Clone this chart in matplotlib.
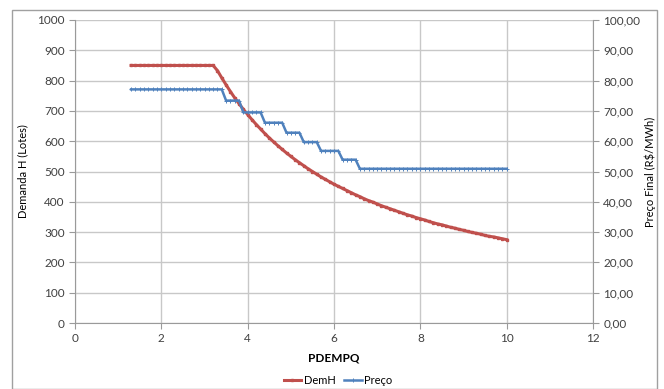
import numpy as np
import matplotlib
matplotlib.use("Agg")
import matplotlib.pyplot as plt
from matplotlib.patches import Rectangle
from matplotlib.ticker import FuncFormatter

# PDEMPQ grid, 1.3 to 10.0 in steps of 0.1
pdempq = np.round(np.arange(1.3, 10.01, 0.1), 1)

# Demanda H (lotes)
dem_h = [850] * 20 + [
    833, 809, 786, 764, 743, 724, 705, 688, 671, 655,
    640, 625, 611, 598, 585, 573, 561, 550, 539, 529,
    519, 509, 500, 491, 482, 474, 466, 458, 451, 444,
    437, 430, 423, 417, 410, 404, 399, 393, 387, 382,
    377, 372, 367, 362, 357, 353, 348, 344, 340, 335,
    331, 327, 324, 320, 316, 313, 309, 306, 302, 299,
    296, 293, 289, 286, 284, 281, 278, 275,
]

# Preço final (R$/MWh)
preco = ([77.1] * 22 + [73.4] * 4 + [69.5] * 5 + [66.1] * 5 + [62.8] * 4
         + [59.7] * 4 + [56.8] * 5 + [53.9] * 4 + [50.9] * 35)

red = "#C0504D"
blue = "#4F81BD"
grid_c = "#c8c8c8"
axis_c = "#9a9a9a"
text_c = "#404040"

plt.rcParams['font.family'] = ['Lato', 'DejaVu Sans']
plt.rcParams['font.size'] = 8.5

fig = plt.figure(figsize=(6.64, 3.89), dpi=100)
fig.patches.append(Rectangle((12 / 664, 0.0), 645 / 664, 1 - 10 / 389,
                             transform=fig.transFigure, fill=False,
                             edgecolor="#a0a0a0", linewidth=1.0))

ax = fig.add_axes([75 / 664, 1 - 323 / 389, 518 / 664, 303 / 389])
ax2 = ax.twinx()

l1, = ax.plot(pdempq, dem_h, color=red, linewidth=2.2, marker="s",
              markersize=1.8, label="DemH", zorder=3)
l2, = ax2.plot(pdempq, preco, color=blue, linewidth=1.8, marker="+",
               markersize=3, markeredgewidth=0.7, label="Preço", zorder=3)

ax.set_xlim(0, 12)
ax.set_ylim(0, 1000)
ax2.set_ylim(0, 100)
ax.set_xticks(range(0, 13, 2))
ax.set_yticks(range(0, 1001, 100))
ax2.set_yticks(range(0, 101, 10))
ax2.yaxis.set_major_formatter(FuncFormatter(lambda v, p: f"{v:.2f}".replace(".", ",")))

ax.grid(True, color=grid_c, linewidth=1)
ax.set_axisbelow(True)
for a in (ax, ax2):
    for s in a.spines.values():
        s.set_visible(False)
    a.tick_params(colors=axis_c, labelcolor=text_c, length=4, width=0.8)
ax.spines["left"].set_visible(True)
ax.spines["left"].set_color(axis_c)
ax.spines["bottom"].set_visible(True)
ax.spines["bottom"].set_color(axis_c)
ax2.spines["right"].set_visible(True)
ax2.spines["right"].set_color(axis_c)

ax.set_xlabel("PDEMPQ", fontweight="bold", color="black", labelpad=6)
ax.set_ylabel("Demanda H (Lotes)", color="black", fontsize=8, labelpad=6)
ax2.set_ylabel("Preço Final (R$/MWh)", color="black", fontsize=8, labelpad=3)

fig.legend(handles=[l1, l2], loc="center", bbox_to_anchor=(338 / 664, 1 - 380 / 389),
           ncol=2, frameon=False, handlelength=1.6, columnspacing=0.8,
           handletextpad=0.2, fontsize=8)

fig.savefig("out.png", dpi=100)
